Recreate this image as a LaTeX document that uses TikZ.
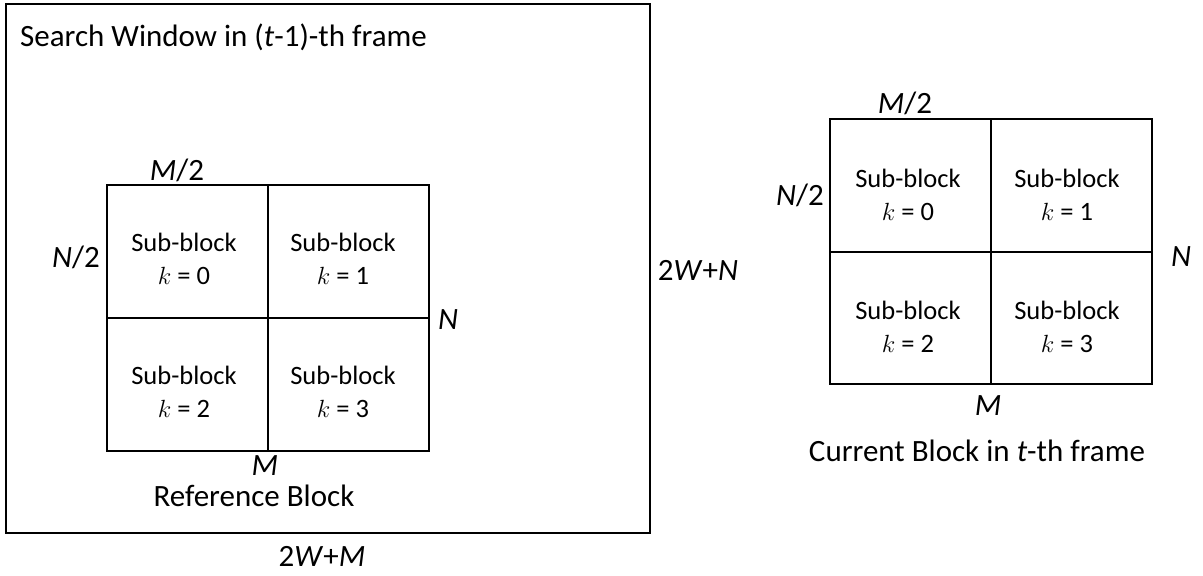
\documentclass[tikz,border=0pt]{standalone}
\usepackage{fontspec}
\setmainfont{Carlito}
\begin{document}
\begin{tikzpicture}[x=1pt,y=-1pt,
  frame/.style={draw=black,line width=1.8pt},
  grid/.style={draw=black,line width=1.6pt},
  lbl/.style={inner sep=0pt,font=\fontsize{31}{37}\selectfont},
  sub/.style={inner sep=0pt,align=center,font=\fontsize{26.5}{33}\selectfont}]
\useasboundingbox (0,0) rectangle (1203,576);
\newcommand\kk{$k$}

% search window
\coordinate (w1) at (6,4);
\coordinate (w2) at (650,533);
\draw[frame] (w1) rectangle (w2);
\node[lbl,anchor=west] (title) at (20,37) {Search Window in (\textit{t}-1)-th frame};
\node[lbl] (ww) at (322,556) {2\textit{W}+\textit{M}};
\node[lbl] (wh) at (698,270) {2\textit{W}+\textit{N}};

% reference block
\coordinate (r1) at (107,185);
\coordinate (r2) at (429,451);
\draw[grid] (r1) rectangle (r2);
\draw[grid] (r1 -| 268,0) -- (r2 -| 268,0);
\draw[grid] (r1 |- 0,318) -- (r2 |- 0,318);
\node[sub] (r0) at (184,259) {Sub-block\\\kk{} = 0};
\node[sub] (rA) at (343,259) {Sub-block\\\kk{} = 1};
\node[sub] (rB) at (184,392) {Sub-block\\\kk{} = 2};
\node[sub] (rC) at (343,392) {Sub-block\\\kk{} = 3};
\node[lbl] (rm2) at (177,170) {\textit{M}/2};
\node[lbl] (rn2) at (76,257) {\textit{N}/2};
\node[lbl] (rn) at (448,320) {\textit{N}};
\node[lbl] (rm) at (265,466) {\textit{M}};
\node[lbl] (rt) at (254,496) {Reference Block};

% current block
\coordinate (c1) at (830,119);
\coordinate (c2) at (1152,384);
\draw[grid] (c1) rectangle (c2);
\draw[grid] (c1 -| 991,0) -- (c2 -| 991,0);
\draw[grid] (c1 |- 0,252) -- (c2 |- 0,252);
\node[sub] (c0) at (908,195) {Sub-block\\\kk{} = 0};
\node[sub] (cA) at (1067,195) {Sub-block\\\kk{} = 1};
\node[sub] (cB) at (908,327) {Sub-block\\\kk{} = 2};
\node[sub] (cC) at (1067,327) {Sub-block\\\kk{} = 3};
\node[lbl] (cm2) at (905,103) {\textit{M}/2};
\node[lbl] (cn2) at (800,195) {\textit{N}/2};
\node[lbl] (cn) at (1181,257) {\textit{N}};
\node[lbl] (cm) at (988,406) {\textit{M}};
\node[lbl] (ct) at (977,451) {Current Block in \textit{t}-th frame};
\end{tikzpicture}
\end{document}
